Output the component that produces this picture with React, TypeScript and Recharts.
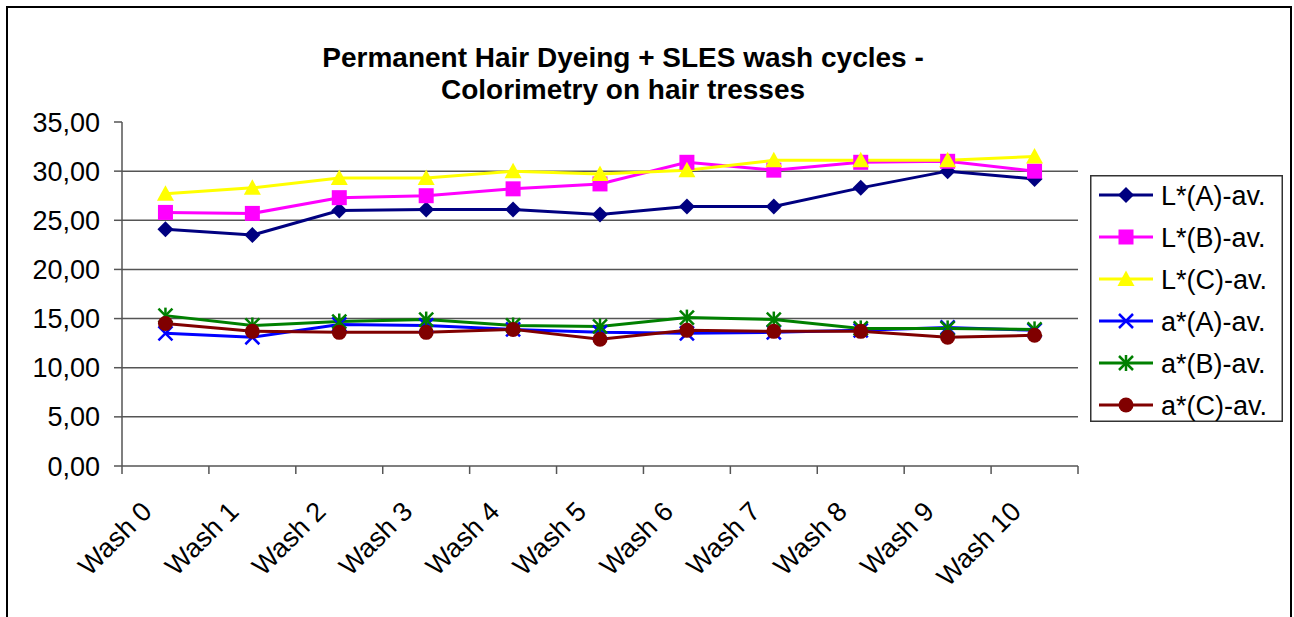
import React from 'react';
import { CartesianGrid, Legend, Line, LineChart, XAxis, YAxis } from 'recharts';

// categories on the x axis
const categories = [
  'Wash 0', 'Wash 1', 'Wash 2', 'Wash 3', 'Wash 4', 'Wash 5',
  'Wash 6', 'Wash 7', 'Wash 8', 'Wash 9', 'Wash 10',
];

// series values
const lA = [24.1, 23.5, 26.0, 26.1, 26.1, 25.6, 26.4, 26.4, 28.3, 30.0, 29.2];
const lB = [25.8, 25.7, 27.3, 27.5, 28.2, 28.7, 30.9, 30.1, 30.9, 31.0, 30.0];
const lC = [27.7, 28.3, 29.3, 29.3, 30.0, 29.7, 30.1, 31.1, 31.1, 31.1, 31.5];
const aA = [13.5, 13.1, 14.4, 14.3, 13.9, 13.6, 13.5, 13.6, 13.8, 14.1, 13.8];
const aB = [15.3, 14.3, 14.7, 14.9, 14.3, 14.2, 15.1, 14.9, 14.0, 14.0, 13.9];
const aC = [14.5, 13.7, 13.6, 13.6, 13.9, 12.9, 13.8, 13.7, 13.7, 13.1, 13.3];

const yTicks = [0, 5, 10, 15, 20, 25, 30, 35];
const gridValues = [5, 10, 15, 20, 25, 30];

const title = ['Permanent Hair Dyeing + SLES wash cycles -', 'Colorimetry on hair tresses'];

const series = [
  { key: 'lA', name: 'L*(A)-av.', values: lA, color: '#000080', shape: 'diamond' },
  { key: 'lB', name: 'L*(B)-av.', values: lB, color: '#FF00FF', shape: 'square' },
  { key: 'lC', name: 'L*(C)-av.', values: lC, color: '#FFFF00', shape: 'triangle' },
  { key: 'aA', name: 'a*(A)-av.', values: aA, color: '#0000FF', shape: 'cross' },
  { key: 'aB', name: 'a*(B)-av.', values: aB, color: '#008000', shape: 'star' },
  { key: 'aC', name: 'a*(C)-av.', values: aC, color: '#800000', shape: 'circle' },
];

const data = categories.map((name, i) => {
  const row: Record<string, string | number> = { idx: i, name };
  series.forEach((s) => {
    row[s.key] = s.values[i];
  });
  return row;
});

// label ticks at the category centres, tick marks between categories
const xTicks = categories
  .flatMap((_, i) => [i - 0.5, i])
  .concat(categories.length - 0.5);

const FONT = '"Liberation Sans", Arial, sans-serif';
const AXIS = '#555';

const fmt = (v: number) => v.toFixed(2).replace('.', ',');

const Marker = ({ cx, cy, shape, color }: any) => {
  switch (shape) {
    case 'diamond':
      return (
        <polygon
          points={`${cx},${cy - 8} ${cx + 8},${cy} ${cx},${cy + 8} ${cx - 8},${cy}`}
          fill={color}
        />
      );
    case 'square':
      return <rect x={cx - 7.5} y={cy - 7.5} width={15} height={15} fill={color} />;
    case 'triangle':
      return (
        <polygon
          points={`${cx},${cy - 8.5} ${cx + 8.5},${cy + 7} ${cx - 8.5},${cy + 7}`}
          fill={color}
        />
      );
    case 'cross':
      return (
        <g stroke={color} strokeWidth={2.5}>
          <line x1={cx - 7} y1={cy - 7} x2={cx + 7} y2={cy + 7} />
          <line x1={cx - 7} y1={cy + 7} x2={cx + 7} y2={cy - 7} />
        </g>
      );
    case 'star':
      return (
        <g stroke={color} strokeWidth={2.5}>
          <line x1={cx - 7} y1={cy - 7} x2={cx + 7} y2={cy + 7} />
          <line x1={cx - 7} y1={cy + 7} x2={cx + 7} y2={cy - 7} />
          <line x1={cx} y1={cy - 8} x2={cx} y2={cy + 8} />
        </g>
      );
    default:
      return <circle cx={cx} cy={cy} r={7.5} fill={color} />;
  }
};

const XTick = (props: any) => {
  const { x, y, payload } = props;
  const v = payload.value;
  if (!Number.isInteger(v)) {
    return <line x1={x} y1={y} x2={x} y2={y + 8} stroke={AXIS} strokeWidth={1.5} />;
  }
  const tx = x - 12;
  const ty = y + 47;
  return (
    <text
      x={tx}
      y={ty}
      textAnchor='end'
      transform={`rotate(-45, ${tx}, ${ty})`}
      fontSize={27}
      fontFamily={FONT}
      fill='#000'
    >
      {categories[v]}
    </text>
  );
};

const renderLegend = (props: any) => {
  const entries = (props.payload || []) as any[];
  return (
    <svg width={193} height={247} style={{ display: 'block' }}>
      <rect x={0.75} y={0.75} width={191.5} height={245.5} fill='#fff' stroke='#333' strokeWidth={1.5} />
      {entries.map((e, i) => {
        const s = series.find((item) => item.key === e.dataKey) || series[i];
        const rowY = 20 + i * 42;
        return (
          <g key={s.key}>
            <line x1={9} y1={rowY} x2={63} y2={rowY} stroke={s.color} strokeWidth={3} />
            <Marker cx={36} cy={rowY} shape={s.shape} color={s.color} />
            <text x={71} y={rowY + 10} fontSize={27} fontFamily={FONT} fill='#000'>
              {s.name}
            </text>
          </g>
        );
      })}
    </svg>
  );
};

const App = () => {
  return (
    <div
      style={{
        position: 'fixed',
        left: 0,
        top: 0,
        width: 1294,
        height: 617,
        overflow: 'hidden',
        background: '#fff',
        fontFamily: FONT,
      }}
    >
      {/* Frame */}
      <div
        style={{
          position: 'absolute',
          left: 6,
          top: 6,
          width: 1286,
          height: 700,
          border: '2px solid #000',
          boxSizing: 'border-box',
        }}
      />

      {/* Title */}
      <svg width={1294} height={120} style={{ position: 'absolute', left: 0, top: 0 }}>
        {title.map((t, i) => (
          <text
            key={t}
            x={623}
            y={67 + i * 32}
            textAnchor='middle'
            fontSize={28}
            fontWeight='bold'
            fontFamily={FONT}
            fill='#000'
          >
            {t}
          </text>
        ))}
      </svg>

      {/* Chart */}
      <div style={{ position: 'absolute', left: 0, top: 0 }}>
        <LineChart
          width={1294}
          height={617}
          data={data}
          margin={{ top: 122, right: 216, bottom: 0, left: 0 }}
        >
          <CartesianGrid vertical={false} horizontalValues={gridValues} stroke={AXIS} strokeWidth={1.5} />

          <XAxis
            dataKey='idx'
            type='number'
            domain={[-0.5, categories.length - 0.5]}
            ticks={xTicks}
            interval={0}
            height={151}
            tickLine={false}
            tickSize={0}
            tickMargin={0}
            axisLine={{ stroke: AXIS, strokeWidth: 1.5 }}
            tick={<XTick />}
          />

          <YAxis
            type='number'
            domain={[0, 35]}
            ticks={yTicks}
            interval={0}
            width={122}
            tickFormatter={fmt}
            tickSize={8}
            tickMargin={14}
            axisLine={{ stroke: AXIS, strokeWidth: 1.5 }}
            tickLine={{ stroke: AXIS, strokeWidth: 1.5 }}
            tick={{ fontSize: 27, fontFamily: FONT, fill: '#000' }}
          />

          <Legend
            layout='vertical'
            align='center'
            verticalAlign='middle'
            wrapperStyle={{ left: 1090, top: 175, width: 193, height: 247, right: 'auto', bottom: 'auto' }}
            content={renderLegend}
          />

          {series.map((s) => (
            <Line
              key={s.key}
              dataKey={s.key}
              name={s.name}
              stroke={s.color}
              strokeWidth={3}
              isAnimationActive={false}
              dot={(p: any) => (
                <Marker key={`${s.key}-${p.index}`} cx={p.cx} cy={p.cy} shape={s.shape} color={s.color} />
              )}
              activeDot={false}
            />
          ))}
        </LineChart>
      </div>
    </div>
  );
};

export default App;
